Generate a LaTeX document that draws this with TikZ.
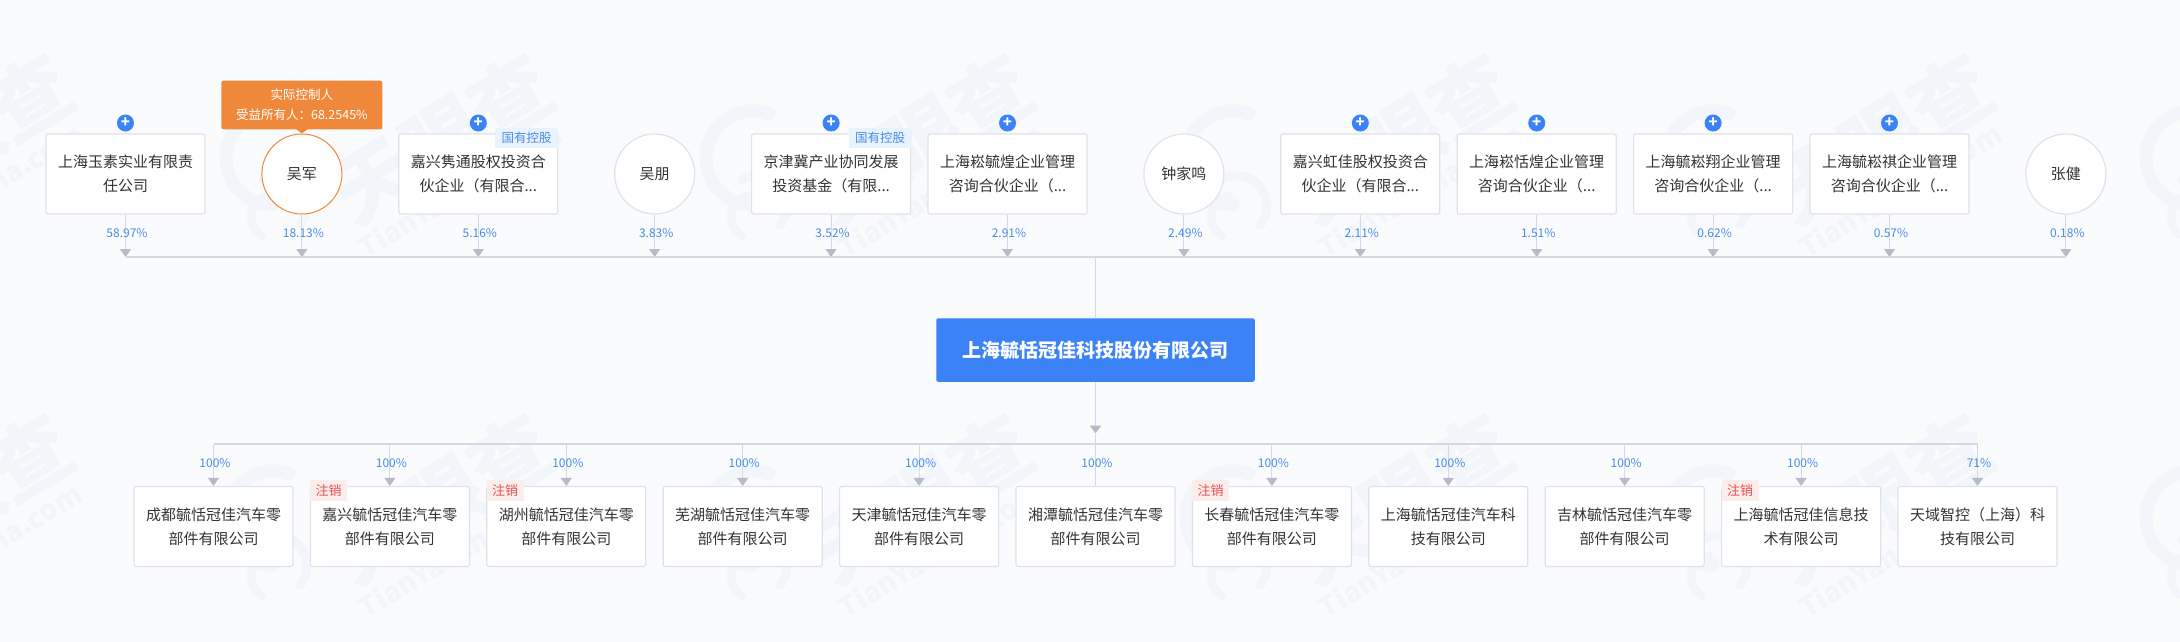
\documentclass[tikz,border=0pt]{standalone}
\usepackage{fontspec}
\setmainfont{Noto Sans CJK SC}
\usepackage{xcolor}
\usetikzlibrary{arrows.meta}
\definecolor{pagebg}{HTML}{F9FBFD}
\definecolor{markblue}{HTML}{F2F6FB}
\definecolor{edgegray}{HTML}{DFE2EA}
\definecolor{linegray}{HTML}{D5D9E3}
\definecolor{tipgray}{HTML}{B7BBC8}
\definecolor{nameblack}{HTML}{333333}
\definecolor{pctblue}{HTML}{4A8BE8}
\definecolor{rootblue}{HTML}{3B82F6}
\definecolor{ctrlorange}{HTML}{EF883A}
\definecolor{statetint}{HTML}{E9F3FE}
\definecolor{cancelred}{HTML}{E8504F}
\definecolor{canceltint}{HTML}{FCEDED}
\tikzset{
  company/.style={draw=edgegray, fill=white, line width=1.2pt, rounded corners=2pt, minimum width=159pt, minimum height=80pt, align=center, text=nameblack, inner sep=0pt, font=\fontsize{15}{24}\selectfont},
  person/.style={draw=edgegray, fill=white, line width=1.2pt, circle, minimum size=80pt, align=center, text=nameblack, inner sep=0pt, font=\fontsize{15}{24}\selectfont},
  rootco/.style={fill=rootblue, rounded corners=2pt, minimum width=318.5pt, minimum height=63.5pt, text=white, inner sep=0pt, font=\fontsize{19}{24}\selectfont\bfseries},
  expand/.style={circle, fill=rootblue, minimum size=17pt, inner sep=0pt, text=white, font=\fontsize{15}{15}\selectfont\bfseries},
  statetag/.style={fill=statetint, minimum width=63pt, minimum height=20pt, inner sep=0pt, text=pctblue, font=\fontsize{12.5}{14}\selectfont},
  canceltag/.style={fill=canceltint, minimum width=37pt, minimum height=20.5pt, inner sep=0pt, text=cancelred, font=\fontsize{13}{14}\selectfont},
  pct/.style={text=pctblue, inner sep=0pt, font=\fontsize{12}{14}\selectfont},
  bus/.style={draw=linegray, line width=2pt},
  stem/.style={draw=linegray, line width=1pt},
  trunk/.style={draw=linegray, line width=1.6pt},
  holding/.style={stem, -{Triangle[width=11pt, length=8pt, color=tipgray]}},
  ctrlbox/.style={fill=ctrlorange, rounded corners=2pt, minimum width=161pt, minimum height=48.5pt, align=center, text=white, inner sep=0pt, font=\fontsize{12.5}{20}\selectfont},
  markbig/.style={text=markblue, rotate=31, inner sep=0pt, font=\fontsize{80}{80}\selectfont\bfseries},
  marksmall/.style={text=markblue, rotate=31, inner sep=0pt, font=\fontsize{28}{28}\selectfont\bfseries},
  markring/.style={draw=markblue, line width=13pt, line cap=round},
}
\newcommand{\markword}[3]{
\node[markbig] (mark#1a) at (#2+442,#3+139) {天眼查};
\node[marksmall] (mark#1b) at (#2+460,#3+190) {TianYancha.com};
}
\newcommand{\markswirl}[2]{
\draw[markring] (#1+273,#2+205) arc[start angle=90, end angle=290, radius=47];
\draw[markring, line width=9pt] (#1+300,#2+225) arc[start angle=40, end angle=-120, radius=30];
\draw[markring, line width=8pt] (#1+262,#2+236) arc[start angle=120, end angle=260, radius=22];
}
\begin{document}
\begin{tikzpicture}[x=1pt, y=-1pt]
\useasboundingbox[fill=pagebg] (0,0) rectangle (2180,642);

\begin{scope}
\clip (0,0) rectangle (2180,642);
\markswirl{0}{0}
\markswirl{480}{0}
\markswirl{960}{0}
\markswirl{1440}{0}
\markswirl{1920}{0}
\markswirl{0}{360}
\markswirl{480}{360}
\markswirl{960}{360}
\markswirl{1440}{360}
\markswirl{1920}{360}
\markword{p}{-480}{0}
\markword{q}{0}{0}
\markword{r}{480}{0}
\markword{s}{960}{0}
\markword{t}{1440}{0}
\markword{v}{-480}{360}
\markword{w}{0}{360}
\markword{x}{480}{360}
\markword{y}{960}{360}
\markword{z}{1440}{360}
\end{scope}

\coordinate (up1) at (125.5,257);
\coordinate (up2) at (301.9,257);
\coordinate (up3) at (478.3,257);
\coordinate (up4) at (654.7,257);
\coordinate (up5) at (831.1,257);
\coordinate (up6) at (1007.5,257);
\coordinate (up7) at (1183.9,257);
\coordinate (up8) at (1360.3,257);
\coordinate (up9) at (1536.7,257);
\coordinate (up10) at (1713.1,257);
\coordinate (up11) at (1889.5,257);
\coordinate (up12) at (2065.9,257);
\coordinate (upjoin) at (1095.5,257);
\coordinate (downjoin) at (1095.5,444);
\coordinate (downmid) at (1095.5,433.5);
\coordinate (dn1) at (213.5,444);
\coordinate (dn2) at (389.9,444);
\coordinate (dn3) at (566.3,444);
\coordinate (dn4) at (742.7,444);
\coordinate (dn5) at (919.1,444);
\coordinate (dn6) at (1095.5,444);
\coordinate (dn7) at (1271.9,444);
\coordinate (dn8) at (1448.3,444);
\coordinate (dn9) at (1624.7,444);
\coordinate (dn10) at (1801.1,444);
\coordinate (dn11) at (1977.5,444);

\node[company] (up1box) at (125.5,174) {上海玉素实业有限责\\任公司};
\node[person, draw=ctrlorange, line width=1pt] (up2box) at (301.9,174) {吴军};
\node[company] (up3box) at (478.3,174) {嘉兴隽通股权投资合\\伙企业（有限合...};
\node[person] (up4box) at (654.7,174) {吴朋};
\node[company] (up5box) at (831.1,174) {京津冀产业协同发展\\投资基金（有限...};
\node[company] (up6box) at (1007.5,174) {上海崧毓煌企业管理\\咨询合伙企业（...};
\node[person] (up7box) at (1183.9,174) {钟家鸣};
\node[company] (up8box) at (1360.3,174) {嘉兴虹佳股权投资合\\伙企业（有限合...};
\node[company] (up9box) at (1536.7,174) {上海崧恬煌企业管理\\咨询合伙企业（...};
\node[company] (up10box) at (1713.1,174) {上海毓崧翔企业管理\\咨询合伙企业（...};
\node[company] (up11box) at (1889.5,174) {上海毓崧祺企业管理\\咨询合伙企业（...};
\node[person] (up12box) at (2065.9,174) {张健};

\node[rootco] (root) at (1095.5,350) {上海毓恬冠佳科技股份有限公司};

\node[company] (dn1box) at (213.5,526.5) {成都毓恬冠佳汽车零\\部件有限公司};
\node[company] (dn2box) at (389.9,526.5) {嘉兴毓恬冠佳汽车零\\部件有限公司};
\node[company] (dn3box) at (566.3,526.5) {湖州毓恬冠佳汽车零\\部件有限公司};
\node[company] (dn4box) at (742.7,526.5) {芜湖毓恬冠佳汽车零\\部件有限公司};
\node[company] (dn5box) at (919.1,526.5) {天津毓恬冠佳汽车零\\部件有限公司};
\node[company] (dn6box) at (1095.5,526.5) {湘潭毓恬冠佳汽车零\\部件有限公司};
\node[company] (dn7box) at (1271.9,526.5) {长春毓恬冠佳汽车零\\部件有限公司};
\node[company] (dn8box) at (1448.3,526.5) {上海毓恬冠佳汽车科\\技有限公司};
\node[company] (dn9box) at (1624.7,526.5) {吉林毓恬冠佳汽车零\\部件有限公司};
\node[company] (dn10box) at (1801.1,526.5) {上海毓恬冠佳信息技\\术有限公司};
\node[company] (dn11box) at (1977.5,526.5) {天域智控（上海）科\\技有限公司};

\draw[holding] (up1box) -- (up1);
\draw[holding] (up2box) -- (up2);
\draw[holding] (up3box) -- (up3);
\draw[holding] (up4box) -- (up4);
\draw[holding] (up5box) -- (up5);
\draw[holding] (up6box) -- (up6);
\draw[holding] (up7box) -- (up7);
\draw[holding] (up8box) -- (up8);
\draw[holding] (up9box) -- (up9);
\draw[holding] (up10box) -- (up10);
\draw[holding] (up11box) -- (up11);
\draw[holding] (up12box) -- (up12);
\draw[bus] (up1) -- (up12);
\draw[trunk] (upjoin) -- (root);
\draw[trunk, -{Triangle[width=11pt, length=8pt, color=tipgray]}] (root) -- (downmid);
\draw[trunk] (downmid) -- (downjoin);
\draw[bus] (dn1) -- (dn11);
\draw[holding] (dn1) -- (dn1box);
\draw[holding] (dn2) -- (dn2box);
\draw[holding] (dn3) -- (dn3box);
\draw[holding] (dn4) -- (dn4box);
\draw[holding] (dn5) -- (dn5box);
\draw[stem] (dn6) -- (dn6box);
\draw[holding] (dn7) -- (dn7box);
\draw[holding] (dn8) -- (dn8box);
\draw[holding] (dn9) -- (dn9box);
\draw[holding] (dn10) -- (dn10box);
\draw[holding] (dn11) -- (dn11box);

\node[pct] (up1pct) at (127,233) {58.97\%};
\node[pct] (up2pct) at (303.4,233) {18.13\%};
\node[pct] (up3pct) at (479.8,233) {5.16\%};
\node[pct] (up4pct) at (656.2,233) {3.83\%};
\node[pct] (up5pct) at (832.6,233) {3.52\%};
\node[pct] (up6pct) at (1009,233) {2.91\%};
\node[pct] (up7pct) at (1185.4,233) {2.49\%};
\node[pct] (up8pct) at (1361.8,233) {2.11\%};
\node[pct] (up9pct) at (1538.2,233) {1.51\%};
\node[pct] (up10pct) at (1714.6,233) {0.62\%};
\node[pct] (up11pct) at (1891,233) {0.57\%};
\node[pct] (up12pct) at (2067.4,233) {0.18\%};
\node[pct] (dn1pct) at (215,463) {100\%};
\node[pct] (dn2pct) at (391.4,463) {100\%};
\node[pct] (dn3pct) at (567.8,463) {100\%};
\node[pct] (dn4pct) at (744.2,463) {100\%};
\node[pct] (dn5pct) at (920.6,463) {100\%};
\node[pct] (dn6pct) at (1097,463) {100\%};
\node[pct] (dn7pct) at (1273.4,463) {100\%};
\node[pct] (dn8pct) at (1449.8,463) {100\%};
\node[pct] (dn9pct) at (1626.2,463) {100\%};
\node[pct] (dn10pct) at (1802.6,463) {100\%};
\node[pct] (dn11pct) at (1979,463) {71\%};

\node[expand] (up1plus) at (125.5,123) {+};
\node[expand] (up3plus) at (478.3,123) {+};
\node[expand] (up5plus) at (831.1,123) {+};
\node[expand] (up6plus) at (1007.5,123) {+};
\node[expand] (up8plus) at (1360.3,123) {+};
\node[expand] (up9plus) at (1536.7,123) {+};
\node[expand] (up10plus) at (1713.1,123) {+};
\node[expand] (up11plus) at (1889.5,123) {+};

\node[statetag] (up3tag) at (526.5,138) {国有控股};
\node[statetag] (up5tag) at (880,138) {国有控股};
\node[canceltag] (dn2tag) at (328.5,490.5) {注销};
\node[canceltag] (dn3tag) at (505,490.5) {注销};
\node[canceltag] (dn7tag) at (1210.5,490.5) {注销};
\node[canceltag] (dn10tag) at (1740,490.5) {注销};

\node[ctrlbox] (ctrl) at (301.9,105) {实际控制人\\受益所有人：68.2545\%};
\fill[ctrlorange] (295.9,129) -- (301.9,133.5) -- (307.9,129) -- cycle;
\end{tikzpicture}
\end{document}
